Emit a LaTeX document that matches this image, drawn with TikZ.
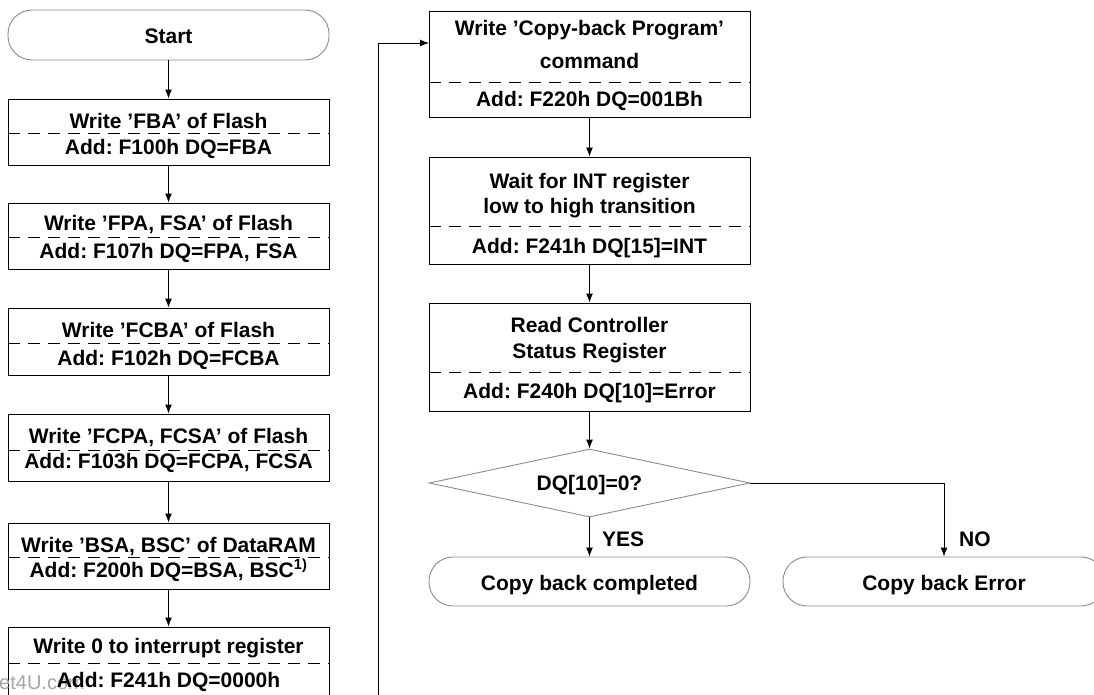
\documentclass[tikz,border=0pt]{standalone}
\usepackage{fontspec}
\setmainfont{Liberation Sans}
\usetikzlibrary{arrows.meta,shapes.geometric}
\frenchspacing
\begin{document}
\begin{tikzpicture}[x=1pt,y=-1pt,
  box/.style={draw=black, line width=1pt, rectangle, minimum width=321pt, inner sep=0pt},
  term/.style={draw=black!45, line width=0.9pt, rectangle, rounded corners=24pt, minimum width=321pt, minimum height=49pt, inner sep=0pt},
  dec/.style={draw=black!45, line width=0.9pt, diamond, minimum width=321pt, minimum height=68pt, inner sep=0pt},
  dashline/.style={line width=0.9pt, dash pattern=on 12pt off 8pt},
  txt/.style={anchor=base, inner sep=0pt, font=\fontsize{21}{25}\selectfont\bfseries},
  arr/.style={line width=1pt, -{Latex[length=9pt,width=7pt]}}
]
\clip (0,0) rectangle (1094,694);
\fill[white] (0,0) rectangle (1094,694);

% ---- left column ----
\node[term, minimum height=50pt] (start) at (168.5,35) {};
\node[txt] (tstart) at (168.5,43) {Start};

\node[box, minimum height=66pt] (b1) at (168.5,132) {};
\draw[dashline] (8,133) -- (329,133);
\node[txt] (t1a) at (168.5,128) {Write 'FBA' of Flash};
\node[txt] (t1b) at (168.5,154) {Add: F100h DQ=FBA};

\node[box, minimum height=66pt] (b2) at (168.5,236) {};
\draw[dashline] (8,237) -- (329,237);
\node[txt] (t2a) at (168.5,230) {Write 'FPA, FSA' of Flash};
\node[txt] (t2b) at (168.5,258) {Add: F107h DQ=FPA, FSA};

\node[box, minimum height=67pt] (b3) at (168.5,341.5) {};
\draw[dashline] (8,343) -- (329,343);
\node[txt] (t3a) at (168.5,337) {Write 'FCBA' of Flash};
\node[txt] (t3b) at (168.5,365) {Add: F102h DQ=FCBA};

\node[box, minimum height=67pt] (b4) at (168.5,447.5) {};
\draw[dashline] (8,450) -- (329,450);
\node[txt] (t4a) at (168.5,443) {Write 'FCPA, FCSA' of Flash};
\node[txt] (t4b) at (168.5,468) {Add: F103h DQ=FCPA, FCSA};

\node[box, minimum height=66pt] (b5) at (168.5,556) {};
\draw[dashline] (8,557) -- (329,557);
\node[txt] (t5a) at (168.5,552) {Write 'BSA, BSC' of DataRAM};
\node[txt] (t5b) at (168.5,577) {Add: F200h DQ=BSA, BSC\textsuperscript{1)}};

\node[box, minimum height=83pt] (b6) at (168.5,668.5) {};
\draw[dashline] (8,663) -- (329,663);
\node[txt] (t6a) at (168.5,653) {Write 0 to interrupt register};
\node[text=black!35, anchor=base west, inner sep=0pt, font=\fontsize{20}{24}\selectfont] (wm) at (-1,689) {et4U.com};
\node[txt] (t6b) at (168.5,687) {Add: F241h DQ=0000h};

\draw[arr] (start) -- (b1);
\draw[arr] (b1) -- (b2);
\draw[arr] (b2) -- (b3);
\draw[arr] (b3) -- (b4);
\draw[arr] (b4) -- (b5);
\draw[arr] (b5) -- (b6);

% ---- right column ----
\node[box, minimum height=106pt] (A) at (589.5,64) {};
\draw[dashline] (429,82) -- (750,82);
\node[txt] (tAa) at (589.5,35) {Write 'Copy-back Program'};
\node[txt] (tAb) at (589.5,68) {command};
\node[txt] (tAc) at (589.5,106) {Add: F220h DQ=001Bh};

\node[box, minimum height=107pt] (B) at (589.5,210.5) {};
\draw[dashline] (429,226) -- (750,226);
\node[txt] (tBa) at (589.5,188) {Wait for INT register};
\node[txt] (tBb) at (589.5,213) {low to high transition};
\node[txt] (tBc) at (589.5,253) {Add: F241h DQ[15]=INT};

\node[box, minimum height=108pt] (C) at (589.5,357) {};
\draw[dashline] (429,372) -- (750,372);
\node[txt] (tCa) at (589.5,332) {Read Controller};
\node[txt] (tCb) at (589.5,358) {Status Register};
\node[txt] (tCc) at (589.5,398) {Add: F240h DQ[10]=Error};

\node[dec] (D) at (589.5,483) {};
\node[txt] (tD) at (589.5,490) {DQ[10]=0?};

\node[term] (E) at (589.5,581.5) {};
\node[txt] (tE) at (589.5,590) {Copy back completed};
\node[term, minimum width=322pt] (F) at (944,581.5) {};
\node[txt] (tF) at (944,590) {Copy back Error};

\draw[arr] (A) -- (B);
\draw[arr] (B) -- (C);
\draw[arr] (C) -- (D);
\draw[arr] (D) -- (E);
\draw[arr] (D.east) -| (F.north);
\node[txt, anchor=base west] (yes) at (602,546) {YES};
\node[txt, anchor=base west] (no) at (959,546) {NO};

\coordinate (loop) at (378,700);
\coordinate (ain) at (429,43);
\draw[arr] (loop) |- (ain);
\end{tikzpicture}
\end{document}
